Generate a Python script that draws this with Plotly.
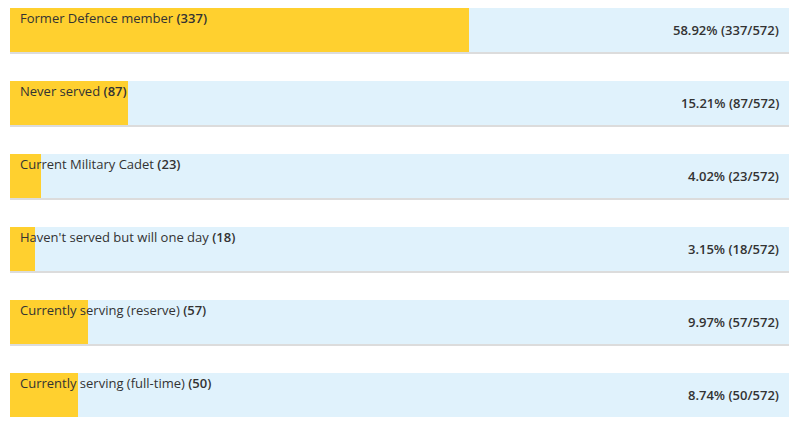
import plotly.graph_objects as go

categories = ["Former Defence member", "Never served", "Current Military Cadet",
              "Haven't served but will one day", "Currently serving (reserve)",
              "Currently serving (full-time)"]
counts = [337, 87, 23, 18, 57, 50]
total = 572
percents = ["58.92%", "15.21%", "4.02%", "3.15%", "9.97%", "8.74%"]

YELLOW = "#FFD02F"
BLUE = "#E0F2FC"
GRAY = "#DCDCDC"
TEXT = "#333333"

idx = list(range(len(categories)))
pitch = 73.0
full_w = 46 / pitch
blue_w = 44 / pitch
off = -full_w / 2

fig = go.Figure()
fig.add_trace(go.Bar(y=idx, x=[total] * len(idx), orientation="h",
                     marker=dict(color=GRAY, line=dict(width=0)),
                     width=full_w, offset=off, hoverinfo="skip"))
fig.add_trace(go.Bar(y=idx, x=[total] * len(idx), orientation="h",
                     marker=dict(color=BLUE, line=dict(width=0)),
                     width=blue_w, offset=off, hoverinfo="skip"))
fig.add_trace(go.Bar(y=idx, x=counts, orientation="h",
                     marker=dict(color=YELLOW, line=dict(width=0)),
                     width=blue_w, offset=off, hoverinfo="skip"))

for i, (c, n, p) in enumerate(zip(categories, counts, percents)):
    fig.add_annotation(x=0, y=i + off, xref="x", yref="y",
                       text=f"{c} <span style=\"font-weight:600\">({n})</span>",
                       showarrow=False,
                       xanchor="left", yanchor="top", xshift=8, yshift=1,
                       font=dict(family="Open Sans", size=13, color=TEXT))
    fig.add_annotation(x=total, y=i + off + blue_w / 2, xref="x", yref="y",
                       text=f"{p} ({n}/{total})", showarrow=False,
                       xanchor="right", yanchor="middle", xshift=-8, yshift=0,
                       font=dict(family="Open Sans", size=13, color=TEXT, weight=600))

W, H = 784, 409
top_px = 23.0
fig.update_layout(
    width=W, height=H,
    margin=dict(l=2, r=3, t=0, b=0),
    paper_bgcolor="white", plot_bgcolor="white",
    barmode="overlay", bargap=0, showlegend=False,
    xaxis=dict(range=[0, total], visible=False, fixedrange=True),
    yaxis=dict(range=[(H - top_px) / pitch, -top_px / pitch],
               visible=False, fixedrange=True),
)
fig.write_html("out.html", config={"displayModeBar": False})
